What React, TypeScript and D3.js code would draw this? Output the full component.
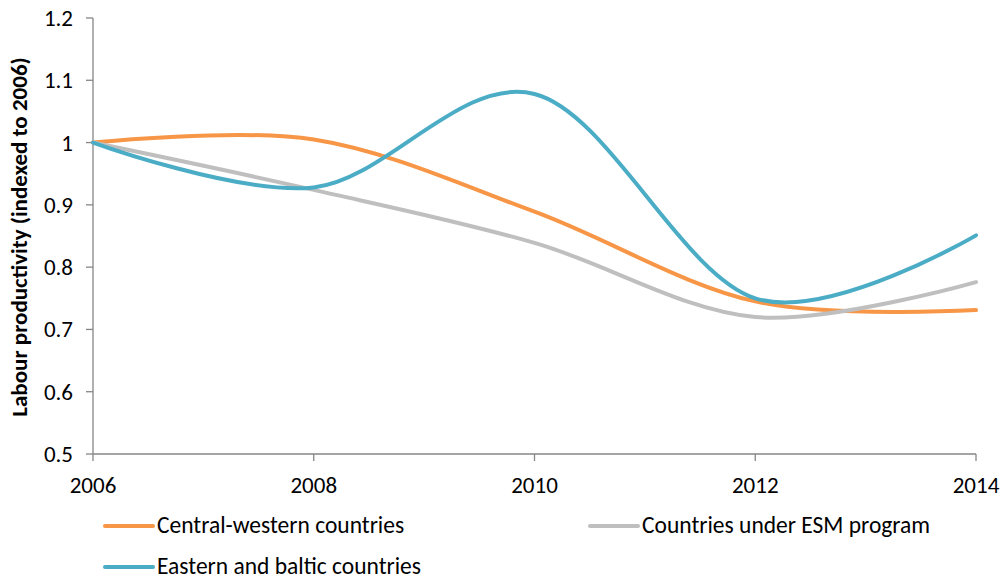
import React from "react";
import * as d3 from "d3";

const years = [2006, 2008, 2010, 2012, 2014];
const centralWestern = [1.0, 1.005, 0.889, 0.745, 0.731];
const esmProgram = [1.0, 0.924, 0.839, 0.72, 0.776];
const easternBaltic = [1.0, 0.928, 1.078, 0.75, 0.851];
const yTicks = [0.5, 0.6, 0.7, 0.8, 0.9, 1, 1.1, 1.2];
const xTicks = [2006, 2008, 2010, 2012, 2014];

const series = [
  { name: "Central-western countries", values: centralWestern, color: "#F79646" },
  { name: "Countries under ESM program", values: esmProgram, color: "#BFBFBF" },
  { name: "Eastern and baltic countries", values: easternBaltic, color: "#4BACC6" },
];

const W = 1002;
const H = 578;
const font = "Carlito, Calibri, 'Open Sans', sans-serif";

export default function App() {
  const x = d3.scaleLinear().domain([2006, 2014]).range([93, 976]);
  const y = d3.scaleLinear().domain([0.5, 1.2]).range([454, 18]);
  const line = d3
    .line<number>()
    .x((_, i) => x(years[i]))
    .y((d) => y(d))
    .curve(d3.curveCatmullRom.alpha(0));

  const legendPos = [
    { lx: 105, ly: 526 },
    { lx: 590, ly: 526 },
    { lx: 105, ly: 567 },
  ];

  return (
    <svg
      width={W}
      height={H}
      style={{ position: "absolute", left: 0, top: 0, background: "#fff" }}
      fontFamily={font}
    >
      {/* axes */}
      <line x1={93} x2={93} y1={18} y2={454} stroke="#868686" strokeWidth={1.3} />
      <line x1={93} x2={976} y1={454} y2={454} stroke="#868686" strokeWidth={1.3} />
      {yTicks.map((t) => (
        <g key={t}>
          <line x1={86} x2={93} y1={y(t)} y2={y(t)} stroke="#868686" strokeWidth={1.3} />
          <text x={73} y={y(t)} dy="0.35em" textAnchor="end" fontSize={23} fill="#000">
            {String(t)}
          </text>
        </g>
      ))}
      {xTicks.map((t) => (
        <g key={t}>
          <line x1={x(t)} x2={x(t)} y1={454} y2={461} stroke="#868686" strokeWidth={1.3} />
          <text x={x(t)} y={493} textAnchor="middle" fontSize={23} fill="#000">
            {t}
          </text>
        </g>
      ))}
      <text
        transform={`translate(27,237) rotate(-90)`}
        textAnchor="middle"
        fontSize={23}
        fontWeight="bold"
        fill="#000"
      >
        Labour productivity (indexed to 2006)
      </text>
      {/* lines */}
      {series.map((s) => (
        <path
          key={s.name}
          d={line(s.values) || ""}
          fill="none"
          stroke={s.color}
          strokeWidth={4}
          strokeLinecap="round"
        />
      ))}
      {/* legend */}
      {series.map((s, i) => (
        <g key={s.name}>
          <line
            x1={legendPos[i].lx}
            x2={legendPos[i].lx + 48}
            y1={legendPos[i].ly}
            y2={legendPos[i].ly}
            stroke={s.color}
            strokeWidth={4}
            strokeLinecap="round"
          />
          <text
            x={legendPos[i].lx + 52}
            y={legendPos[i].ly}
            dy="0.3em"
            fontSize={23.5}
            fill="#000"
          >
            {s.name}
          </text>
        </g>
      ))}
    </svg>
  );
}
